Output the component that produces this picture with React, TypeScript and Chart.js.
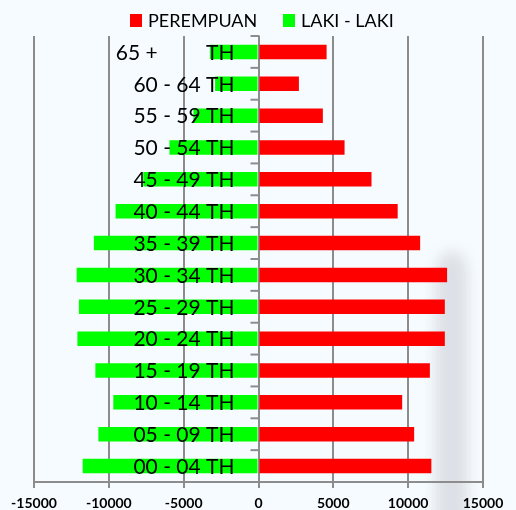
import React, { useEffect, useRef } from "react";
import { Chart, registerables } from "chart.js";

Chart.register(...registerables);

const categories = [
  "65 +         TH",
  "60 - 64 TH",
  "55 - 59 TH",
  "50 - 54 TH",
  "45 - 49 TH",
  "40 - 44 TH",
  "35 - 39 TH",
  "30 - 34 TH",
  "25 - 29 TH",
  "20 - 24 TH",
  "15 - 19 TH",
  "10 - 14 TH",
  "05 - 09 TH",
  "00 - 04 TH",
];

const perempuan = [4550, 2700, 4300, 5750, 7550, 9300, 10800, 12600, 12450, 12450, 11450, 9600, 10400, 11550];
const lakiLaki = [-3250, -2900, -4350, -5950, -7700, -9550, -11000, -12150, -12000, -12100, -10900, -9700, -10700, -11750];

const seriesNames = ["PEREMPUAN", "LAKI - LAKI"];
const seriesColors = ["#ff0000", "#00ff00"];
const xTicks = { min: -15000, max: 15000, step: 5000 };

const GRID = "#8c8c8c";

const backgroundPlugin = {
  id: "bgShade",
  beforeDraw(chart: any) {
    const { ctx } = chart;
    ctx.save();
    ctx.filter = "blur(7px)";
    ctx.fillStyle = "rgba(200,200,208,0.55)";
    ctx.beginPath();
    ctx.moveTo(436, 530);
    ctx.lineTo(436, 275);
    ctx.quadraticCurveTo(438, 252, 452, 252);
    ctx.quadraticCurveTo(466, 252, 467, 275);
    ctx.lineTo(467, 530);
    ctx.closePath();
    ctx.fill();
    ctx.restore();
  },
};

const overlayPlugin = {
  id: "overlay",
  afterDatasetsDraw(chart: any) {
    const { ctx, scales } = chart;
    const x = scales.x;
    const y = scales.y;
    const x0 = x.getPixelForValue(0);
    ctx.save();
    // category tick marks on the zero line
    ctx.strokeStyle = GRID;
    ctx.lineWidth = 2;
    const n = categories.length;
    const half = (y.getPixelForValue(1) - y.getPixelForValue(0)) / 2;
    for (let i = 0; i <= n; i++) {
      const py = i < n ? y.getPixelForValue(i) - half : y.bottom;
      ctx.beginPath();
      ctx.moveTo(x0 - 8, py);
      ctx.lineTo(x0 + 1, py);
      ctx.stroke();
    }
    // category labels
    ctx.fillStyle = "#000";
    ctx.font = "21px Lato";
    ctx.textAlign = "right";
    ctx.textBaseline = "middle";
    categories.forEach((c, i) => {
      ctx.fillText(c, x0 - 24, y.getPixelForValue(i) + 1);
    });
    // x tick labels from the scale's own ticks
    ctx.font = "bold 14px Lato";
    ctx.textAlign = "center";
    x.ticks.forEach((t: any) => {
      ctx.fillText(String(t.value), x.getPixelForValue(t.value), 503);
    });
    // legend
    ctx.font = "18px Lato";
    ctx.textAlign = "left";
    const items = [
      { box: 130, text: 148 },
      { box: 283, text: 301 },
    ];
    items.forEach((it, i) => {
      ctx.fillStyle = seriesColors[i];
      ctx.fillRect(it.box, 14, 12, 13);
      ctx.fillStyle = "#000";
      ctx.fillText(seriesNames[i], it.text, 21);
    });
    ctx.restore();
  },
};

export default function App() {
  const ref = useRef<HTMLCanvasElement>(null);
  useEffect(() => {
    if (!ref.current) return;
    const chart = new Chart(ref.current, {
      type: "bar",
      data: {
        labels: categories,
        datasets: [
          { label: seriesNames[0], data: perempuan, backgroundColor: seriesColors[0], borderWidth: 0 },
          { label: seriesNames[1], data: lakiLaki, backgroundColor: seriesColors[1], borderWidth: 0 },
        ],
      },
      options: {
        indexAxis: "y",
        responsive: false,
        animation: false,
        maintainAspectRatio: false,
        layout: { padding: { top: 36, left: 34, right: 33, bottom: 22 } },
        datasets: { bar: { barPercentage: 0.455, categoryPercentage: 1 } },
        plugins: { legend: { display: false }, tooltip: { enabled: false } },
        scales: {
          y: { stacked: true, display: false },
          x: {
            stacked: true,
            min: xTicks.min,
            max: xTicks.max,
            grid: { color: GRID, lineWidth: 2, tickLength: 6, drawTicks: true },
            border: { display: true, color: GRID, width: 2 },
            ticks: { stepSize: xTicks.step, display: false },
          },
        },
      },
      plugins: [backgroundPlugin, overlayPlugin],
    });
    return () => chart.destroy();
  }, []);
  return (
    <div style={{ position: "fixed", left: 0, top: 0, width: 516, height: 510, background: "#f5fbfe" }}>
      <canvas ref={ref} width={516} height={510} style={{ width: 516, height: 510 }} />
    </div>
  );
}
